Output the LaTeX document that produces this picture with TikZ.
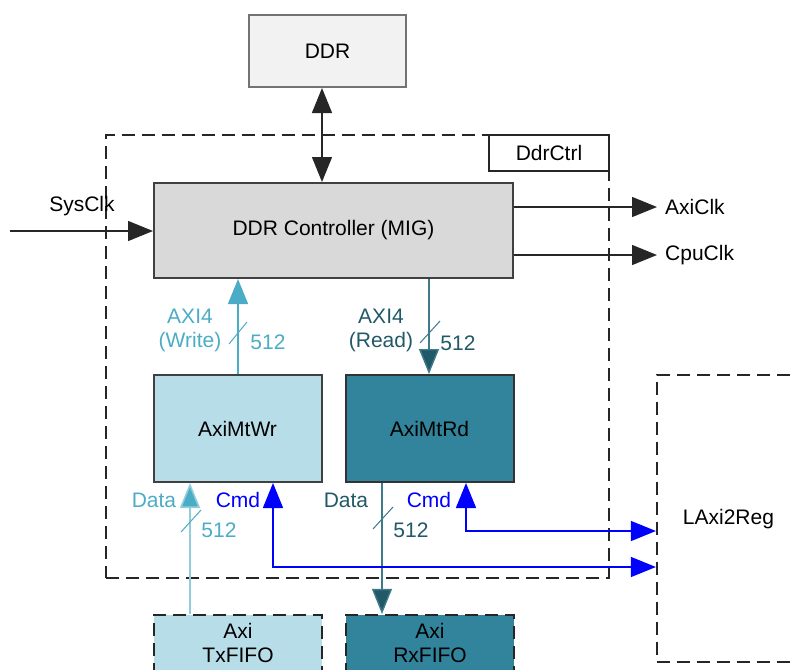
\documentclass[tikz,border=0pt]{standalone}
\usepackage{fontspec}
\setmainfont{Liberation Sans}
\usetikzlibrary{arrows.meta}
\definecolor{lightfill}{HTML}{B7DDE8}
\definecolor{tealfill}{HTML}{31849B}
\definecolor{cyanline}{HTML}{4BACC6}
\definecolor{cyanpale}{HTML}{92CDDC}
\definecolor{darkteal}{HTML}{215968}
\definecolor{midteal}{HTML}{3E7A8A}
\definecolor{ddrfill}{HTML}{F2F2F2}
\definecolor{migfill}{HTML}{D9D9D9}
\definecolor{boxline}{HTML}{404040}
\definecolor{cmdblue}{HTML}{0000FF}
\begin{document}
\begin{tikzpicture}[x=1pt,y=-1pt,
  every node/.style={font=\fontsize{21}{24}\selectfont, inner sep=0pt, align=center},
  >={Triangle[length=25pt,width=20pt]},
  blk/.style={draw=boxline, line width=2pt},
  dbox/.style={draw=black!85, line width=2.2pt, dash pattern=on 13pt off 7pt},
  sig/.style={line width=1.4pt, draw=black!85}
]
\clip (0,0) rectangle (796,670);
\useasboundingbox (0,0) rectangle (796,670);

% container
\node[dbox, minimum width=503pt, minimum height=443pt] (ctrl) at (357.5,356.5) {};
\node[draw=black!85, line width=1.8pt, minimum width=120pt, minimum height=36pt] (ctrllbl) at (549,153) {DdrCtrl};

% blocks
\node[blk, draw=black!55, fill=ddrfill, minimum width=157pt, minimum height=72pt] (ddr) at (327.5,51) {DDR};
\node[blk, fill=migfill, minimum width=359pt, minimum height=95pt] (mig) at (333.5,230.5) {DDR Controller (MIG)};
\node[blk, fill=lightfill, minimum width=168pt, minimum height=107pt] (wr) at (237.5,428.5) {AxiMtWr};
\node[blk, draw=black!80, fill=tealfill, minimum width=168pt, minimum height=107pt] (rd) at (429.5,428.5) {AxiMtRd};
\node[dbox, fill=lightfill, minimum width=168pt, minimum height=56pt] (tx) at (238,643) {Axi\\TxFIFO};
\node[dbox, fill=tealfill, minimum width=168pt, minimum height=56pt] (rx) at (430,643) {Axi\\RxFIFO};
\node[dbox, minimum width=143pt, minimum height=287pt] (lax) at (728.5,518.5) {};
\node (laxlbl) at (728.5,519) {LAxi2Reg};

% x positions of connectors
\coordinate (xddr) at (322,0);
\coordinate (xw) at (238,0);
\coordinate (xr) at (429,0);
\coordinate (xdw) at (190,0);
\coordinate (xdr) at (382,0);
\coordinate (cw) at (273,567);
\coordinate (cr) at (466,531);
\coordinate (sysin) at (10,231);
\coordinate (axic) at (657,207);
\coordinate (cpuc) at (657,255);

% DDR link
\draw[sig, <->] (ddr.south -| xddr) -- (mig.north -| xddr);

% clocks
\draw[sig, ->] (sysin) -- (sysin -| mig.west);
\node (sysclk) at (82,206) {SysClk};
\draw[sig, ->] (mig.east |- axic) -- (axic);
\node[anchor=west] (axiclk) at (665,207) {AxiClk};
\draw[sig, ->] (mig.east |- cpuc) -- (cpuc);
\node[anchor=west] (cpuclk) at (665,255) {CpuClk};

% AXI4 write
\draw[line width=1.4pt, cyanline, ->] (wr.north -| xw) -- (mig.south -| xw);
\coordinate (sw) at (238,333);
\draw[line width=1pt, cyanline] ([shift={(-9,11)}]sw) -- ([shift={(9,-11)}]sw);
\node[text=cyanline] (axiwl) at (190,330) {AXI4\\(Write)};
\node[text=cyanline] (axiwn) at (268,342) {512};

% AXI4 read
\draw[line width=1.4pt, midteal, -{Triangle[length=25pt,width=20pt,fill=darkteal]}] (mig.south -| xr) -- (rd.north -| xr);
\coordinate (sr) at (430,332);
\draw[line width=1pt, midteal] ([shift={(-10,11)}]sr) -- ([shift={(10,-11)}]sr);
\node[text=darkteal] (axirl) at (381,330) {AXI4\\(Read)};
\node[text=darkteal] (axirn) at (458,343) {512};

% Data write
\draw[line width=1.6pt, cyanpale, -{Triangle[length=25pt,width=20pt,fill=cyanline]}] (tx.north -| xdw) -- (wr.south -| xdw);
\coordinate (sdw) at (191,521);
\draw[line width=1pt, cyanline] ([shift={(-10,11)}]sdw) -- ([shift={(10,-11)}]sdw);
\node[text=cyanline] (dwl) at (154,500) {Data};
\node[text=cyanline] (dwn) at (219,530) {512};

% Data read
\draw[line width=1.4pt, midteal, -{Triangle[length=25pt,width=20pt,fill=darkteal]}] (rd.south -| xdr) -- (rx.north -| xdr);
\coordinate (sdr) at (383,518);
\draw[line width=1pt, midteal] ([shift={(-10,11)}]sdr) -- ([shift={(10,-11)}]sdr);
\node[text=darkteal] (drl) at (346,500) {Data};
\node[text=darkteal] (drn) at (411,530) {512};

% Cmd links
\draw[line width=1.4pt, cmdblue, <->] (wr.south -| cw) -- (cw) -- (lax.west |- cw);
\node[text=cmdblue] (cwl) at (238,500) {Cmd};
\draw[line width=1.4pt, cmdblue, <->] (rd.south -| cr) -- (cr) -- (lax.west |- cr);
\node[text=cmdblue] (crl) at (429,500) {Cmd};
\end{tikzpicture}
\end{document}
